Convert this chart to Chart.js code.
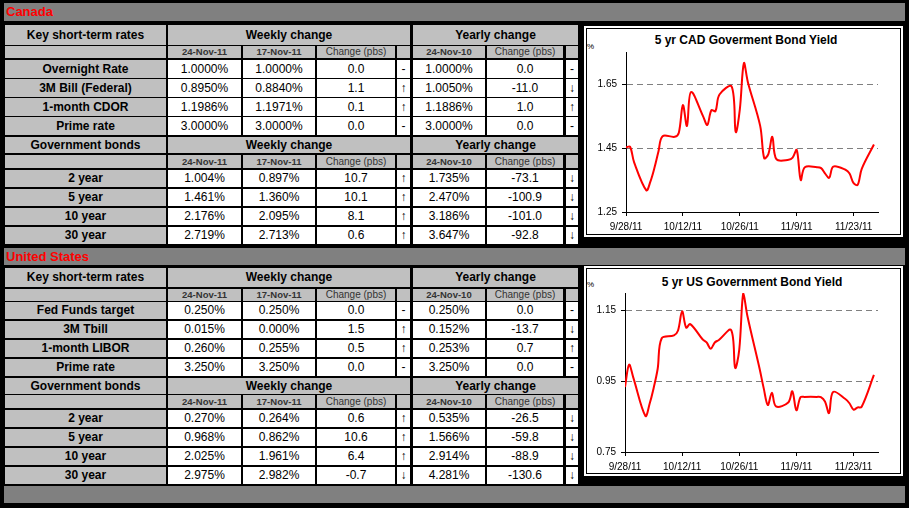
<!DOCTYPE html>
<html>
<head>
<meta charset="utf-8">
<script src="https://cdn.jsdelivr.net/npm/chart.js@4.4.1/dist/chart.umd.min.js"></script>
<style>
  body { margin: 0; background: #000; width: 909px; height: 508px; overflow: hidden; font-family: "Liberation Sans", Arial, sans-serif; }
  #page { position: relative; width: 909px; height: 508px; background: #000; }
  .c { position: absolute; box-sizing: border-box; text-align: center; white-space: nowrap; overflow: hidden; font-size: 12px; color: #000; }
  .bar { background: #808080; color: #f00; font-weight: bold; font-size: 13px; text-align: left; padding-left: 2px; }
  .lab { background: #c0c0c0; font-weight: bold; }
  .val { background: #fff; }
  .sub { background: #c0c0c0; color: #333; font-size: 10px; }
  .subd { background: #c0c0c0; color: #333; font-size: 9.5px; font-weight: bold; }
  .panel { position: absolute; background: #fff; }
  .frame { position: absolute; border: 1px solid #000; box-sizing: border-box; }
  .ctitle { position: absolute; width: 300px; text-align: center; font-size: 12px; font-weight: bold; line-height: 14px; color: #000; }
  .pct { position: absolute; font-size: 8px; color: #000; }
  canvas { position: absolute; }
</style>
</head>
<body>
<div id="page"></div>
<script>
// table data
const weekDates = ["24-Nov-11", "17-Nov-11"];
const yearDate = "24-Nov-10";

const cadShortNames = ["Overnight Rate", "3M Bill (Federal)", "1-month CDOR", "Prime rate"];
const cadShortNow = [1.0, 0.895, 1.1986, 3.0];
const cadShortWeek = [1.0, 0.884, 1.1971, 3.0];
const cadShortWeekChg = [0.0, 1.1, 0.1, 0.0];
const cadShortYear = [1.0, 1.005, 1.1886, 3.0];
const cadShortYearChg = [0.0, -11.0, 1.0, 0.0];

const bondNames = ["2 year", "5 year", "10 year", "30 year"];
const cadBondNow = [1.004, 1.461, 2.176, 2.719];
const cadBondWeek = [0.897, 1.360, 2.095, 2.713];
const cadBondWeekChg = [10.7, 10.1, 8.1, 0.6];
const cadBondYear = [1.735, 2.470, 3.186, 3.647];
const cadBondYearChg = [-73.1, -100.9, -101.0, -92.8];

const usShortNames = ["Fed Funds target", "3M Tbill", "1-month LIBOR", "Prime rate"];
const usShortNow = [0.25, 0.015, 0.26, 3.25];
const usShortWeek = [0.25, 0.0, 0.255, 3.25];
const usShortWeekChg = [0.0, 1.5, 0.5, 0.0];
const usShortYear = [0.25, 0.152, 0.253, 3.25];
const usShortYearChg = [0.0, -13.7, 0.7, 0.0];

const usBondNow = [0.270, 0.968, 2.025, 2.975];
const usBondWeek = [0.264, 0.862, 1.961, 2.982];
const usBondWeekChg = [0.6, 10.6, 6.4, -0.7];
const usBondYear = [0.535, 1.566, 2.914, 4.281];
const usBondYearChg = [-26.5, -59.8, -88.9, -130.6];

// chart data
const tradeDates = ["9/28/11", "9/29/11", "9/30/11", "10/3/11", "10/4/11", "10/5/11", "10/6/11", "10/7/11",
  "10/10/11", "10/11/11", "10/12/11", "10/13/11", "10/14/11", "10/17/11", "10/18/11", "10/19/11", "10/20/11",
  "10/21/11", "10/24/11", "10/25/11", "10/26/11", "10/27/11", "10/28/11", "10/31/11", "11/1/11", "11/2/11",
  "11/3/11", "11/4/11", "11/7/11", "11/8/11", "11/9/11", "11/10/11", "11/11/11", "11/14/11", "11/15/11",
  "11/16/11", "11/17/11", "11/18/11", "11/21/11", "11/22/11", "11/23/11", "11/24/11", "11/25/11", "11/28/11"];
const cadYield = [1.452, 1.454, 1.405, 1.318, 1.345, 1.388, 1.440, 1.487,
  1.485, 1.498, 1.584, 1.519, 1.625, 1.548, 1.522, 1.568, 1.565,
  1.617, 1.642, 1.500, 1.570, 1.715, 1.655, 1.520, 1.418, 1.430,
  1.485, 1.415, 1.413, 1.420, 1.444, 1.350, 1.390, 1.390, 1.387,
  1.370, 1.357, 1.392, 1.382, 1.370, 1.340, 1.335, 1.385, 1.461];
const usYield = [0.934, 0.997, 0.962, 0.852, 0.885, 0.930, 0.985, 1.072,
  1.080, 1.094, 1.148, 1.102, 1.112, 1.069, 1.060, 1.042, 1.060,
  1.067, 1.095, 0.988, 1.040, 1.200, 1.135, 0.985, 0.930, 0.883,
  0.918, 0.879, 0.890, 0.922, 0.868, 0.905, 0.906, 0.906, 0.905,
  0.893, 0.860, 0.920, 0.900, 0.888, 0.870, 0.876, 0.878, 0.968];
const dateTicks = ["9/28/11", "10/12/11", "10/26/11", "11/9/11", "11/23/11"];
const axisEnd = "11/29/11";
const cadRange = [1.25, 1.75];
const cadTicks = [1.25, 1.45, 1.65];
const usRange = [0.75, 1.2];
const usTicks = [0.75, 0.95, 1.15];

const FONT = '"Liberation Sans", Arial, sans-serif';
const page = document.getElementById("page");

function cell(x, y, w, h, text, cls) {
  const d = document.createElement("div");
  d.className = "c " + cls;
  d.style.cssText = `left:${x}px;top:${y}px;width:${w}px;height:${h}px;line-height:${h}px`;
  d.textContent = text;
  page.appendChild(d);
  return d;
}

const cols = [[5, 161], [168, 73], [243, 72], [317, 78], [397, 13], [413, 72], [487, 76], [566, 12]];
const arrow = v => (v > 0 ? "\u2191" : v < 0 ? "\u2193" : "-");

function headRows(y, h, subY, subH, label) {
  cell(cols[0][0], y, cols[0][1], h, label, "lab");
  cell(168, y, 242, h, "Weekly change", "lab");
  cell(413, y, 165, h, "Yearly change", "lab");
  cell(cols[0][0], subY, cols[0][1], subH, "", "sub");
  cell(cols[1][0], subY, cols[1][1], subH, weekDates[0], "subd");
  cell(cols[2][0], subY, cols[2][1], subH, weekDates[1], "subd");
  cell(cols[3][0], subY, cols[3][1], subH, "Change (pbs)", "sub");
  cell(cols[4][0], subY, cols[4][1], subH, "", "sub");
  cell(cols[5][0], subY, cols[5][1], subH, yearDate, "subd");
  cell(cols[6][0], subY, cols[6][1], subH, "Change (pbs)", "sub");
  cell(cols[7][0], subY, cols[7][1], subH, "", "sub");
}

function dataRows(tops, h, names, now, week, wchg, year, ychg, digits) {
  names.forEach((n, i) => {
    const y = tops[i];
    const txt = [n, now[i].toFixed(digits) + "%", week[i].toFixed(digits) + "%", wchg[i].toFixed(1),
      arrow(wchg[i]), year[i].toFixed(digits) + "%", ychg[i].toFixed(1), arrow(ychg[i])];
    txt.forEach((t, j) => cell(cols[j][0], y, cols[j][1], h, t, j === 0 ? "lab" : "val"));
  });
}

// Canada
cell(4, 3, 901, 18, "Canada", "bar");
headRows(25, 20, 46, 12, "Key short-term rates");
dataRows([60, 79, 98, 117], 18, cadShortNames, cadShortNow, cadShortWeek, cadShortWeekChg, cadShortYear, cadShortYearChg, 4);
headRows(137, 16, 155, 13, "Government bonds");
dataRows([170, 189, 208, 227], 17, bondNames, cadBondNow, cadBondWeek, cadBondWeekChg, cadBondYear, cadBondYearChg, 3);

// United States
cell(4, 248, 901, 17, "United States", "bar");
headRows(268, 19, 289, 12, "Key short-term rates");
dataRows([302, 321, 340, 359], 17, usShortNames, usShortNow, usShortWeek, usShortWeekChg, usShortYear, usShortYearChg, 3);
headRows(378, 16, 395, 13, "Government bonds");
dataRows([410, 429, 448, 467], 17, bondNames, usBondNow, usBondWeek, usBondWeekChg, usBondYear, usBondYearChg, 3);

cell(4, 486, 901, 17, "", "bar");

// chart panels
function panel(top, h, title, titleX, titleY, pctY) {
  const p = document.createElement("div");
  p.className = "panel";
  p.style.cssText = `left:584px;top:${top}px;width:319px;height:${h}px`;
  page.appendChild(p);
  const f = document.createElement("div");
  f.className = "frame";
  f.style.cssText = `left:586px;top:${top + 2}px;width:315px;height:${h - 4}px`;
  page.appendChild(f);
  const t = document.createElement("div");
  t.className = "ctitle";
  t.style.cssText = `left:${titleX - 150}px;top:${titleY - 7}px`;
  t.textContent = title;
  page.appendChild(t);
  const pc = document.createElement("div");
  pc.className = "pct";
  pc.style.cssText = `left:587px;top:${pctY - 5}px`;
  pc.textContent = "%";
  page.appendChild(pc);
  const cv = document.createElement("canvas");
  cv.width = 319;
  cv.height = h;
  cv.style.cssText = `left:584px;top:${top}px`;
  page.appendChild(cv);
  return cv;
}

function dayOf(s) {
  const [m, d, y] = s.split("/").map(Number);
  return (Date.UTC(2000 + y, m - 1, d) - Date.UTC(2011, 8, 28)) / 864e5;
}

function drawYield(canvas, values, range, ticks, top, left, bottom) {
  return new Chart(canvas, {
    type: "line",
    data: {
      datasets: [{
        data: values.map((v, i) => ({ x: dayOf(tradeDates[i]), y: v })),
        borderColor: "#ff0000",
        borderWidth: 2,
        pointRadius: 0,
        tension: 0.35,
        fill: false,
      }],
    },
    options: {
      responsive: false,
      animation: false,
      events: [],
      layout: { padding: { top: top, right: 25, left: 0, bottom: 0 } },
      plugins: { legend: { display: false }, tooltip: { enabled: false } },
      scales: {
        x: {
          type: "linear",
          min: 0,
          max: dayOf(axisEnd),
          afterBuildTicks: a => { a.ticks = dateTicks.map(s => ({ value: dayOf(s) })); },
          afterFit: a => { a.height = bottom; },
          ticks: { callback: (v, i) => dateTicks[i], autoSkip: false, maxRotation: 0, color: "#000", font: { family: FONT, size: 10 }, padding: 5 },
          grid: { drawOnChartArea: false, tickLength: 4, tickColor: "#000" },
          border: { color: "#000", width: 1 },
        },
        y: {
          min: range[0],
          max: range[1],
          afterBuildTicks: a => { a.ticks = ticks.map(v => ({ value: v })); },
          afterFit: a => { a.width = left; },
          ticks: { callback: v => v.toFixed(2), color: "#000", font: { family: FONT, size: 10 }, padding: 5 },
          grid: {
            color: c => (c.tick && c.tick.value === range[0] ? "rgba(0,0,0,0)" : "#808080"),
            tickLength: 4,
            tickColor: "#000",
          },
          border: { color: "#000", width: 1, dash: [6, 4] },
        },
      },
    },
  });
}

const cadCanvas = panel(26, 211, "5 yr CAD Goverment Bond Yield", 746, 40, 47);
const usCanvas = panel(266, 210, "5 yr US Government Bond Yield", 752, 282, 285);
drawYield(cadCanvas, cadYield, cadRange, cadTicks, 26, 42, 25);
drawYield(usCanvas, usYield, usRange, usTicks, 27, 41, 24);
</script>
</body>
</html>
